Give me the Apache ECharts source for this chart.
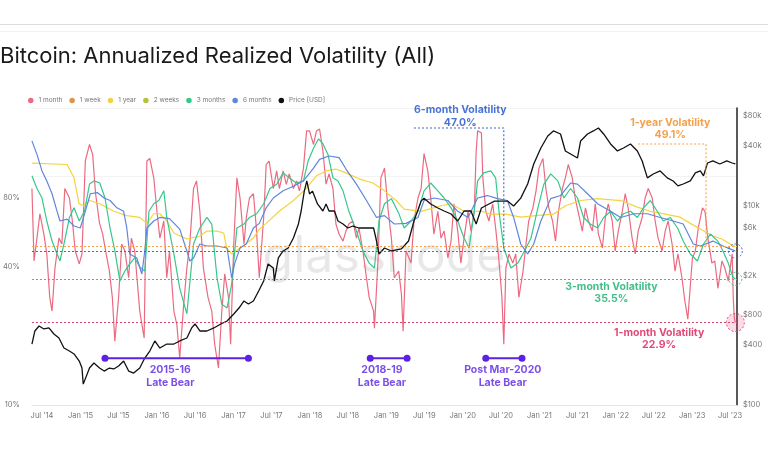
<!DOCTYPE html>
<html><head><meta charset="utf-8">
<script src="https://cdn.jsdelivr.net/npm/echarts@6/dist/echarts.min.js"></script>
<style>html,body{margin:0;padding:0;background:#fff}#c{width:768px;height:463px}</style>
</head><body><div id="c"></div>
<script>
// ---------- DATA ----------
const vol1m = [
['2014-05-14',88],['2014-05-24',42.5],['2014-06-07',53.5],['2014-06-21',68.3],['2014-07-10',55.7],['2014-07-24',45.6],
['2014-08-07',29.5],['2014-08-18',25.7],['2014-09-01',39.6],['2014-09-20',53.5],['2014-10-04',50.4],['2014-10-18',88],
['2014-11-09',80],['2014-11-23',63.5],['2014-12-07',47],['2014-12-26',41.3],['2015-01-08',45.6],['2015-01-24',116],
['2015-02-13',137],['2015-02-28',124],['2015-03-14',83.5],['2015-04-02',62],['2015-04-17',55.7],['2015-05-01',47],
['2015-05-19',38.4],['2015-06-02',29.5],['2015-06-14',19],['2015-07-02',29.5],['2015-07-17',50.4],['2015-08-01',47],
['2015-08-19',35.9],['2015-09-01',53.5],['2015-09-17',47],['2015-10-11',25.7],['2015-11-01',19.6],['2015-11-14',116],
['2015-11-28',119],['2015-12-17',98],['2016-01-01',70],['2016-01-15',53.5],['2016-02-03',63.5],['2016-02-17',35.9],
['2016-03-01',47],['2016-03-22',25.7],['2016-04-05',22.5],['2016-04-19',16.1],['2016-05-08',27.5],['2016-05-23',39.6],
['2016-06-06',50.4],['2016-06-24',88],['2016-07-08',95],['2016-07-24',70],['2016-08-10',39.6],['2016-09-01',29.5],
['2016-09-19',25.7],['2016-10-03',18.4],['2016-10-21',14.5],['2016-11-06',25.7],['2016-11-20',37.3],['2016-12-08',29.5],
['2016-12-18',18.4],['2017-01-02',50.4],['2017-01-17',98],['2017-02-01',80],['2017-02-20',50.4],['2017-03-03',65.8],
['2017-03-18',80],['2017-04-06',83.5],['2017-04-20',59.2],['2017-05-04',35.9],['2017-05-25',65.8],['2017-06-06',112],
['2017-06-20',116],['2017-07-10',88],['2017-07-26',105],['2017-08-08',88],['2017-08-26',105],['2017-09-10',91.8],
['2017-09-24',102],['2017-10-14',88],['2017-10-29',95],['2017-11-12',86],['2017-12-01',108],['2017-12-16',157],
['2017-12-30',157],['2018-01-18',137],['2018-02-01',157],['2018-02-16',160],['2018-03-04',128],['2018-03-19',92],
['2018-04-02',102],['2018-04-21',88],['2018-05-05',61.6],['2018-05-20',55.7],['2018-06-08',51.9],['2018-06-22',57.4],
['2018-07-06',61.6],['2018-07-25',63.5],['2018-08-11',53.5],['2018-08-23',59.2],['2018-09-11',47],['2018-09-28',35.9],
['2018-10-11',29.5],['2018-11-01',25.7],['2018-11-05',21.6],['2018-11-22',42.5],['2018-12-06',98],['2018-12-23',108],
['2019-01-10',70],['2019-01-25',53.5],['2019-02-08',35.9],['2019-03-01',38.4],['2019-03-14',30.5],['2019-03-22',21],
['2019-04-05',47],['2019-04-29',41.6],['2019-05-13',63.5],['2019-06-01',80],['2019-06-16',88],['2019-06-30',125],
['2019-07-18',105],['2019-08-01',80],['2019-08-16',55.7],['2019-09-04',70],['2019-09-19',53.5],['2019-10-04',57.4],
['2019-10-22',43.8],['2019-11-06',51.9],['2019-11-20',75.5],['2019-12-08',57.4],['2019-12-23',41.6],['2020-01-07',53.5],
['2020-01-26',70],['2020-02-09',57.4],['2020-02-25',70],['2020-03-05',128],['2020-03-12',157],['2020-03-30',154],
['2020-04-06',98],['2020-04-20',70],['2020-05-05',63.5],['2020-05-23',75.5],['2020-06-06',59.2],['2020-06-22',42.5],
['2020-07-06',29.5],['2020-07-15',18.4],['2020-07-25',39.6],['2020-08-09',45.6],['2020-08-27',41.6],['2020-09-10',45.6],
['2020-09-25',29.5],['2020-10-15',38.4],['2020-10-29',50.4],['2020-11-11',63.5],['2020-12-01',72.5],['2020-12-16',86],
['2020-12-30',108],['2021-01-18',119],['2021-02-01',88],['2021-02-15',72.5],['2021-03-05',63.5],['2021-03-19',51.9],
['2021-04-02',70],['2021-04-21',88],['2021-05-05',98],['2021-05-19',112],['2021-06-07',98],['2021-06-21',80],
['2021-07-07',68.3],['2021-07-25',57.4],['2021-08-09',72.5],['2021-08-23',63.5],['2021-09-11',57.4],['2021-09-25',75.5],
['2021-10-10',55.7],['2021-10-29',48.4],['2021-11-12',65.8],['2021-11-26',75.5],['2021-12-15',63.5],['2021-12-29',47],
['2022-01-13',57.4],['2022-02-01',70],['2022-02-15',83.5],['2022-03-01',72.5],['2022-03-20',53.5],['2022-04-04',45.6],
['2022-04-18',57.4],['2022-05-07',65.8],['2022-05-21',80],['2022-06-05',88],['2022-06-24',80],['2022-07-08',63.5],
['2022-07-22',53.5],['2022-08-10',47],['2022-08-25',57.4],['2022-09-08',63.5],['2022-09-27',50.4],['2022-10-11',38.4],
['2022-10-25',45.6],['2022-11-13',35.9],['2022-11-27',28.4],['2022-12-11',23.7],['2023-01-02',43.8],['2023-01-16',47],
['2023-01-30',59.2],['2023-02-19',72.5],['2023-03-03',70],['2023-03-17',53.5],['2023-04-05',41.6],['2023-04-19',42.5],
['2023-05-04',32.3],['2023-05-23',42.5],['2023-06-06',39.6],['2023-06-22',34.8],['2023-07-11',45.6],['2023-07-16',29.5],
['2023-07-21',24],['2023-07-26',22.9]
];
const vol1y = [
['2014-05-14',113.5],['2014-10-29',112],['2014-12-01',98],['2014-12-25',75.5],['2015-01-15',74],['2015-02-15',78],
['2015-04-03',75.5],['2015-06-09',70],['2015-08-10',67],['2015-10-11',65.8],['2015-11-14',62],['2015-12-17',68.3],
['2016-01-15',68.3],['2016-02-17',63.5],['2016-03-22',56.3],['2016-05-23',53],['2016-07-24',54.6],['2016-08-27',57.4],
['2016-10-14',57.4],['2016-11-15',56.3],['2016-11-29',48.4],['2016-12-23',45.6],['2017-02-01',48.4],['2017-04-06',53.5],
['2017-05-04',58.5],['2017-06-06',62],['2017-08-07',70],['2017-10-14',78],['2017-12-16',88.5],['2018-02-01',100],
['2018-03-19',105],['2018-05-05',107],['2018-06-22',103],['2018-08-23',97],['2018-10-29',93],['2018-12-16',87],
['2019-02-17',78],['2019-03-27',71.5],['2019-06-16',70],['2019-09-19',74],['2019-11-06',75.5],['2020-01-07',70],
['2020-03-30',70],['2020-05-14',68],['2020-07-25',68],['2020-10-05',66],['2020-12-16',67],['2021-03-09',68],
['2021-05-05',74],['2021-07-17',78],['2021-10-06',79.5],['2022-01-24',78],['2022-04-14',73],['2022-06-15',70],
['2022-08-25',68],['2022-11-05',66],['2022-12-23',62],['2023-02-09',58.6],['2023-04-10',54.6],['2023-05-23',53],
['2023-07-01',50.4],['2023-07-26',49.1]
];
const vol3m = [
['2014-05-14',100],['2014-06-07',88],['2014-07-01',80],['2014-07-24',63.5],['2014-08-18',51.9],['2014-09-11',45.6],
['2014-09-25',42.5],['2014-10-17',51.9],['2014-11-09',65.8],['2014-12-01',72.5],['2014-12-26',63.5],['2015-01-20',70],
['2015-02-13',92],['2015-03-06',95],['2015-04-03',93],['2015-04-28',80],['2015-05-22',59.2],['2015-06-14',47],
['2015-07-08',34.8],['2015-08-01',38.4],['2015-08-24',41.3],['2015-09-17',43.8],['2015-10-11',40],['2015-11-04',38.4],
['2015-11-24',70],['2015-12-17',75.5],['2016-01-10',78],['2016-02-03',86],['2016-02-17',65.8],['2016-03-22',45.6],
['2016-04-19',32.3],['2016-05-23',25],['2016-06-24',50.4],['2016-07-24',59.2],['2016-08-27',65.8],['2016-09-19',61.6],
['2016-10-14',35.9],['2016-11-06',27.5],['2016-12-01',26.5],['2016-12-23',33.7],['2017-01-17',59.2],['2017-02-20',61.6],
['2017-03-18',65.8],['2017-04-21',68.3],['2017-05-25',75.5],['2017-06-24',88],['2017-07-26',91.8],['2017-08-26',103],
['2017-09-24',98],['2017-10-28',93],['2017-12-01',95],['2017-12-23',116],['2018-01-18',132],['2018-02-11',145],
['2018-03-04',138],['2018-03-28',124],['2018-04-21',98],['2018-05-15',95],['2018-06-08',86],['2018-07-06',70],
['2018-08-11',57.4],['2018-09-11',47],['2018-10-11',41.6],['2018-11-05',39.6],['2018-11-27',63.5],['2018-12-23',75.5],
['2019-01-25',79.5],['2019-03-01',68.7],['2019-03-27',59.2],['2019-04-29',63.5],['2019-06-01',70],['2019-06-30',86],
['2019-08-01',93],['2019-09-04',86],['2019-10-04',80],['2019-11-06',72.5],['2019-12-08',63.5],['2020-01-07',53.5],
['2020-01-31',48.4],['2020-02-25',70],['2020-03-12',95],['2020-04-10',103],['2020-05-14',105],['2020-06-06',98],
['2020-06-22',70],['2020-07-15',48.4],['2020-08-18',39.6],['2020-09-20',41.6],['2020-10-22',47],['2020-11-22',53.5],
['2020-12-25',72.5],['2021-01-22',91.8],['2021-02-24',102],['2021-03-30',95],['2021-04-28',80],['2021-05-30',88],
['2021-07-02',80],['2021-07-31',65.8],['2021-09-01',61.6],['2021-10-06',59.2],['2021-11-04',65.8],['2021-12-07',70],
['2022-01-09',63.5],['2022-02-07',68.3],['2022-03-12',70],['2022-04-14',65.8],['2022-05-13',72.5],['2022-06-15',78],
['2022-07-18',70],['2022-08-16',63.5],['2022-09-18',65.8],['2022-10-23',59.2],['2022-11-19',51.9],['2022-12-23',45.6],
['2023-01-26',42.5],['2023-02-24',50.4],['2023-03-29',55.7],['2023-05-03',51.9],['2023-05-28',47],['2023-06-22',41.6],
['2023-07-16',35.9],['2023-07-26',35.5]
];
const vol6m = [
['2014-05-14',142],['2014-06-07',124],['2014-07-01',105],['2014-07-24',95],['2014-08-18',83.5],['2014-09-11',70],
['2014-09-25',63.5],['2014-10-29',64.7],['2014-12-01',60.4],['2014-12-31',59.2],['2015-01-24',70],['2015-02-17',83.5],
['2015-03-22',84.5],['2015-04-24',80],['2015-05-22',78],['2015-06-24',72.5],['2015-07-26',70],['2015-08-10',59.2],
['2015-08-24',45.6],['2015-09-27',43.8],['2015-10-21',37.3],['2015-11-04',47],['2015-11-14',59.2],['2015-12-17',63.5],
['2016-01-15',65.8],['2016-03-01',65],['2016-04-19',58.5],['2016-05-23',47],['2016-06-06',42.5],['2016-06-24',43.8],
['2016-07-24',50.4],['2016-08-27',49.4],['2016-10-14',49.4],['2016-12-01',48.4],['2016-12-23',35.9],['2017-01-07',41.6],
['2017-02-01',48.4],['2017-03-03',50.4],['2017-04-06',59.2],['2017-05-04',62],['2017-06-06',72.5],['2017-07-10',80],
['2017-08-26',86],['2017-10-14',90],['2017-12-01',95],['2018-01-18',108],['2018-02-16',118],['2018-04-02',122],
['2018-05-20',120],['2018-06-22',107],['2018-08-11',92],['2018-09-28',78],['2018-11-15',65.8],['2018-12-23',67],
['2019-02-08',61.6],['2019-04-05',62],['2019-06-01',65.8],['2019-06-30',78],['2019-08-16',80],['2019-10-22',78],
['2019-12-08',70],['2020-01-26',65.8],['2020-03-12',80],['2020-04-28',82],['2020-06-15',79.5],['2020-08-01',78],
['2020-08-31',65.8],['2020-10-04',50.4],['2020-11-06',45.6],['2020-12-05',50.4],['2021-01-08',63.5],['2021-02-24',79.5],
['2021-04-12',82],['2021-05-30',93],['2021-07-02',92],['2021-08-19',83.5],['2021-10-06',75.5],['2021-12-07',70],
['2022-01-24',65.8],['2022-03-28',68.3],['2022-06-01',68.3],['2022-08-01',65.8],['2022-10-02',63.5],['2022-11-19',61.6],
['2023-01-06',50.4],['2023-02-09',49.4],['2023-04-10',51.9],['2023-05-28',49.4],['2023-07-01',48],['2023-07-26',47]
];
const priceUsd = [
['2014-05-14',409],['2014-05-28',553],['2014-06-17',620],['2014-07-10',579],['2014-08-03',593],['2014-08-27',516],
['2014-09-20',470],['2014-10-14',373],['2014-11-09',348],['2014-12-01',325],['2014-12-26',276],['2015-01-08',235],
['2015-01-14',162],['2015-02-13',235],['2015-03-06',264],['2015-04-02',235],['2015-04-24',219],['2015-05-19',235],
['2015-06-09',230],['2015-07-02',246],['2015-07-26',276],['2015-08-19',219],['2015-09-12',209],['2015-10-11',235],
['2015-11-04',296],['2015-11-28',348],['2015-12-22',439],['2016-01-15',373],['2016-02-17',409],['2016-03-22',409],
['2016-04-19',439],['2016-05-23',470],['2016-06-15',593],['2016-07-01',650],['2016-07-24',553],['2016-08-27',553],
['2016-09-29',593],['2016-11-01',650],['2016-12-01',696],['2017-01-02',818],['2017-01-27',940],['2017-02-20',1106],
['2017-03-13',1032],['2017-04-06',1106],['2017-05-01',1393],['2017-05-25',1755],['2017-06-15',2600],['2017-07-10',2370],
['2017-07-15',1755],['2017-08-03',2990],['2017-08-26',3510],['2017-09-19',3760],['2017-10-14',4740],['2017-11-07',6550],
['2017-11-20',8840],['2017-12-05',14000],['2017-12-17',17700],['2017-12-30',13100],['2018-01-13',14000],['2018-02-06',10400],
['2018-03-04',8840],['2018-03-19',10400],['2018-04-02',8840],['2018-04-28',8840],['2018-05-15',7020],['2018-06-08',6550],
['2018-07-01',5970],['2018-07-25',6250],['2018-08-23',5970],['2018-09-28',5970],['2018-11-01',5970],['2018-11-15',4420],
['2018-11-27',3270],['2018-12-23',3760],['2019-01-25',3510],['2019-03-14',3680],['2019-04-17',4420],['2019-05-13',7020],
['2019-06-16',11100],['2019-06-30',11900],['2019-08-01',10400],['2019-09-04',9480],['2019-10-04',8840],['2019-11-06',8250],
['2019-12-08',7020],['2020-01-07',8840],['2020-02-09',8840],['2020-03-05',6550],['2020-03-30',9480],['2020-05-05',10400],
['2020-06-01',11100],['2020-07-01',11100],['2020-08-03',11100],['2020-08-31',9930],['2020-10-04',11900],['2020-11-06',16500],
['2020-12-05',26200],['2021-01-08',37900],['2021-02-10',50000],['2021-03-09',56200],['2021-04-12',52400],['2021-05-05',35400],
['2021-05-30',33000],['2021-07-02',30100],['2021-07-17',44600],['2021-08-19',52400],['2021-09-16',56200],['2021-10-10',60200],
['2021-11-04',52400],['2021-12-07',41600],['2022-01-09',35400],['2022-02-07',37900],['2022-03-12',41600],['2022-04-14',35400],
['2022-05-07',28100],['2022-06-01',19000],['2022-06-29',20800],['2022-08-01',22300],['2022-09-04',19000],['2022-10-02',17700],
['2022-10-25',15800],['2022-11-19',16500],['2022-12-23',17700],['2023-01-16',21300],['2023-02-09',22300],['2023-02-24',19900],
['2023-03-15',26800],['2023-04-10',28100],['2023-05-13',26200],['2023-06-15',28100],['2023-07-11',26800],['2023-07-26',26200]
];
// latest values highlighted
const latest = {m1: 22.9, m3: 35.5, m6: 47.0, y1: 49.1};
// annotation callouts (date, volatility %)
const callout6m = [['2019-05-13',161.6],['2020-07-15',161.6],['2020-07-15',47.0]];
const callout1y = [['2022-04-18',137.6],['2023-03-08',137.6],['2023-03-08',49.1]];
const bearPeriods = [
  {name:'2015-16\nLate Bear', from:'2015-04-28', to:'2017-03-13', labelAt:'2016-03-05'},
  {name:'2018-19\nLate Bear', from:'2018-10-16', to:'2019-04-10', labelAt:'2018-12-11'},
  {name:'Post Mar-2020\nLate Bear', from:'2020-04-20', to:'2020-10-10', labelAt:'2020-07-10'}
];
const bearLevel = 16.0, bearLabelLevel = 13.3;
const volNotes = [
  {text:'6-month Volatility\n47.0%', at:['2019-12-20',182], color:'#1a50cc'},
  {text:'1-year Volatility\n49.1%', at:['2022-09-18',160], color:'#f08a22'},
  {text:'3-month Volatility\n35.5%', at:['2021-12-11',30.8], color:'#17ad6c'},
  {text:'1-month Volatility\n22.9%', at:['2022-07-27',19.4], color:'#d91a55'}
];
// tick labels
const xTickDates = ['2014-07-01','2015-01-01','2015-07-01','2016-01-01','2016-07-01','2017-01-01','2017-07-01','2018-01-01','2018-07-01','2019-01-01','2019-07-01','2020-01-01','2020-07-01','2021-01-01','2021-07-01','2022-01-01','2022-07-01','2023-01-01','2023-07-01'];
const xTickLabels = ["Jul '14","Jan '15","Jul '15","Jan '16","Jul '16","Jan '17","Jul '17","Jan '18","Jul '18","Jan '19","Jul '19","Jan '20","Jul '20","Jan '21","Jul '21","Jan '22","Jul '22","Jan '23","Jul '23"];
const volTicks = [10, 40, 80];
const volTickLabels = ['10%','40%','80%'];
const priceTicks = [100, 400, 800, 2000, 6000, 10000, 40000, 80000];
const priceTickLabels = ['$100','$400','$800','$2k','$6k','$10k','$40k','$80k'];

// ---------- CHART ----------
const toTs = s => { const p = s.split('-').map(Number); return Date.UTC(p[0], p[1]-1, p[2]); };
const T = arr => arr.map(d => [toTs(d[0]), d[1]]);
const xTs = xTickDates.map(toTs);
const FONT = 'Inter, "Noto Sans", sans-serif';
const chart = echarts.init(document.getElementById('c'), null, {renderer:'canvas'});

function levelLine(v, color){
  return {silent:true, symbol:'none', label:{show:false},
    lineStyle:{color:color, type:[2,2], width:1.1}, data:[{yAxis:v}]};
}
function endCircle(pt, size, color, fill){
  return {silent:true, symbol:'circle', symbolSize:size, label:{show:false},
    itemStyle:{color:fill, borderColor:color, borderWidth:1, borderType:[2,2]},
    data:[{coord:[toTs(pt[0]), pt[1]]}]};
}
const last = a => a[a.length-1];

const series = [
  {name:'1 month', type:'line', data:T(vol1m), showSymbol:false, lineStyle:{width:1.2}, color:'#ec6a81', z:2,
   markLine: levelLine(latest.m1, '#d4456c'), markPoint: endCircle(last(vol1m), 18, '#e0457a', 'rgba(233,80,130,0.2)')},
  {name:'1 week', type:'line', data:[], color:'#d9964d'},
  {name:'1 year', type:'line', data:T(vol1y), showSymbol:false, lineStyle:{width:1.2}, color:'#f4d43e', z:2,
   markLine: levelLine(latest.y1, '#f5a34a')},
  {name:'2 weeks', type:'line', data:[], color:'#b6c23c'},
  {name:'3 months', type:'line', data:T(vol3m), showSymbol:false, lineStyle:{width:1.2}, color:'#37c78b', z:2,
   markLine: levelLine(latest.m3, '#35c285'), markPoint: endCircle(last(vol3m), 13, '#35c285', 'rgba(255,255,255,0)')},
  {name:'6 months', type:'line', data:T(vol6m), showSymbol:false, lineStyle:{width:1.2}, color:'#5f86dd', z:2,
   markLine: levelLine(latest.m6, '#3f66d0'), markPoint: endCircle(last(vol6m), 14, '#3f66d0', 'rgba(255,255,255,0)')},
  {name:'Price [USD]', type:'line', yAxisIndex:1, data:T(priceUsd), showSymbol:false, lineStyle:{width:1.3}, color:'#111111', z:3},
  {name:'c6', type:'line', data:T(callout6m), showSymbol:false, silent:true, color:'#3f66d0', lineStyle:{type:[2,2], width:1.1}, z:4},
  {name:'c1y', type:'line', data:T(callout1y), showSymbol:false, silent:true, color:'#f5a34a', lineStyle:{type:[2,2], width:1.1}, z:4}
];
bearPeriods.forEach((b,i)=>{
  series.push({name:'bear'+i, type:'line', data:[[toTs(b.from),bearLevel],[toTs(b.to),bearLevel]], symbol:'circle', symbolSize:7,
    showSymbol:true, color:'#5b22e3', lineStyle:{width:2}, silent:true, z:5});
});
series.push({name:'bearLabels', type:'scatter', symbolSize:0, silent:true, z:6,
  data: bearPeriods.map(b=>({value:[toTs(b.labelAt), bearLabelLevel], label:{formatter:b.name}})),
  label:{show:true, position:'inside', color:'#5b22e3', fontSize:10.5, fontWeight:'bold', lineHeight:13, fontFamily:FONT, align:'center'}});
series.push({name:'volNotes', type:'scatter', symbolSize:0, silent:true, z:6,
  data: volNotes.map(n=>({value:[toTs(n.at[0]), n.at[1]], label:{formatter:n.text, color:n.color}})),
  label:{show:true, position:'inside', fontSize:10.5, fontWeight:'bold', lineHeight:12.5, fontFamily:FONT, align:'center'}});

const option = {
  animation:false,
  backgroundColor:'#ffffff',
  title:{text:'Bitcoin: Annualized Realized Volatility (All)', left:0, top:45, padding:0,
    textStyle:{fontSize:22, fontWeight:'normal', color:'#1a1a1a', fontFamily:FONT}},
  legend:{data:['1 month','1 week','1 year','2 weeks','3 months','6 months','Price [USD]'],
    left:23, top:92, icon:'circle', itemWidth:5.5, itemHeight:5.5, itemGap:7,
    textStyle:{fontSize:6.5, color:'#777', fontFamily:FONT}},
  graphic:[
    {type:'rect', left:0, top:24, shape:{width:768, height:1}, style:{fill:'#dcdcdc'}},
    {type:'rect', left:0, top:31, shape:{width:768, height:1}, style:{fill:'#f2f2f2'}},
    {type:'text', left:'center', top:232, z:0, silent:true,
      style:{text:'glassnode', fontSize:50, fontFamily:FONT, fill:'rgba(0,0,0,0.09)'}}
  ],
  grid:{left:30, right:31, top:108, bottom:58},
  xAxis:{type:'value', min:toTs('2014-05-14'), max:toTs('2023-08-03'),
    axisLine:{show:true, lineStyle:{color:'#e4e4e4'}}, axisTick:{show:false}, splitLine:{show:false},
    axisLabel:{customValues:xTs, color:'#777', fontSize:7.5, fontFamily:FONT, margin:7,
      formatter:(v)=>{ const i = xTs.indexOf(v); return i>=0 ? xTickLabels[i] : ''; }}},
  yAxis:[
    {type:'log', logBase:10, min:10, max:197.6, position:'left',
      axisLine:{show:false}, axisTick:{show:false},
      splitLine:{show:true, lineStyle:{color:'#f3f3f3'}},
      axisLabel:{customValues:volTicks, color:'#777', fontSize:7.5, fontFamily:FONT, margin:12,
        formatter:(v)=>{ const i = volTicks.indexOf(Math.round(v)); return i>=0 ? volTickLabels[i] : ''; }}},
    {type:'log', logBase:10, min:100, max:95500, position:'right',
      axisLine:{show:true, lineStyle:{color:'#222', width:1.5}}, axisTick:{show:false},
      splitLine:{show:false},
      axisLabel:{customValues:priceTicks, color:'#777', fontSize:7.5, fontFamily:FONT, margin:6,
        formatter:(v)=>{ const i = priceTicks.indexOf(Math.round(v)); return i>=0 ? priceTickLabels[i] : ''; }}}
  ],
  series: series
};
chart.setOption(option);
</script></body></html>
